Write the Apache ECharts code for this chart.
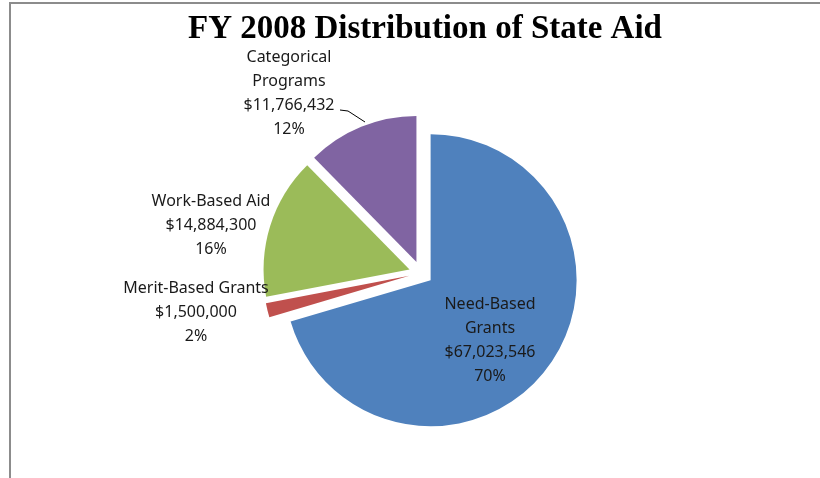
<!DOCTYPE html>
<html lang="en">
<head>
    <meta charset="UTF-8">
    <title>FY 2008 Distribution of State Aid</title>
    <script src="https://cdn.jsdelivr.net/npm/echarts@6/dist/echarts.min.js"></script>
    <style>
        body { margin: 0; background: #fff; }
    </style>
</head>
<body>
    <div id="main" style="width: 820px;height:478px;"></div>
    <script type="text/javascript">
        // chart data
        const categories = ['Need-Based Grants', 'Merit-Based Grants', 'Work-Based Aid', 'Categorical Programs'];
        const labelNames = ['Need-Based\nGrants', 'Merit-Based Grants', 'Work-Based Aid', 'Categorical\nPrograms'];
        const amounts = [67023546, 1500000, 14884300, 11766432];
        const colors = ['#4F81BD', '#C0504D', '#9BBB59', '#8064A2'];

        // where each label sits (text block centre)
        const labelSpots = [[490, 340], [196, 312], [211, 225], [289, 93]];

        const total = amounts.reduce((a, b) => a + b, 0);

        let myChart = echarts.init(document.getElementById('main'));

        // data labels as free text, built from the arrays above
        const labelTexts = categories.map((c, i) => ({
            type: 'text',
            silent: true,
            style: {
                text: labelNames[i] + '\n$' + amounts[i].toLocaleString('en-US') + '\n' +
                    Math.round(amounts[i] / total * 100) + '%',
                x: labelSpots[i][0],
                y: labelSpots[i][1],
                align: 'center',
                verticalAlign: 'middle',
                fontFamily: 'Noto Sans',
                fontSize: 16,
                lineHeight: 24,
                fill: '#1a1a1a'
            },
            z: 10
        }));

        let options = {
            animation: false,
            title: {
                text: 'FY 2008 Distribution of State Aid',
                left: 420,
                textAlign: 'center',
                top: 8,
                textStyle: {
                    fontFamily: 'Liberation Serif',
                    fontWeight: 'bold',
                    fontSize: 33,
                    color: '#000'
                }
            },
            graphic: [{
                type: 'polyline',
                shape: { points: [[10, 478], [10, 3], [820, 3]] },
                style: { stroke: '#8c8c8c', lineWidth: 2, fill: null }
            }, {
                // leader line for the categorical label
                type: 'polyline',
                shape: { points: [[340, 110], [348, 111], [365, 122]] },
                style: { stroke: '#000', lineWidth: 1, fill: null }
            }].concat(labelTexts),
            series: [{
                name: 'State Aid',
                type: 'pie',
                center: [421, 273],
                radius: 146,
                startAngle: 90,
                clockwise: true,
                selectedMode: 'multiple',
                selectedOffset: 12,
                data: categories.map((c, i) => ({
                    name: c,
                    value: amounts[i],
                    selected: true,
                    itemStyle: { color: colors[i] }
                })),
                label: { show: false },
                labelLine: { show: false },
                emphasis: { disabled: true }
            }]
        };

        myChart.setOption(options);
    </script>
</body>
</html>
